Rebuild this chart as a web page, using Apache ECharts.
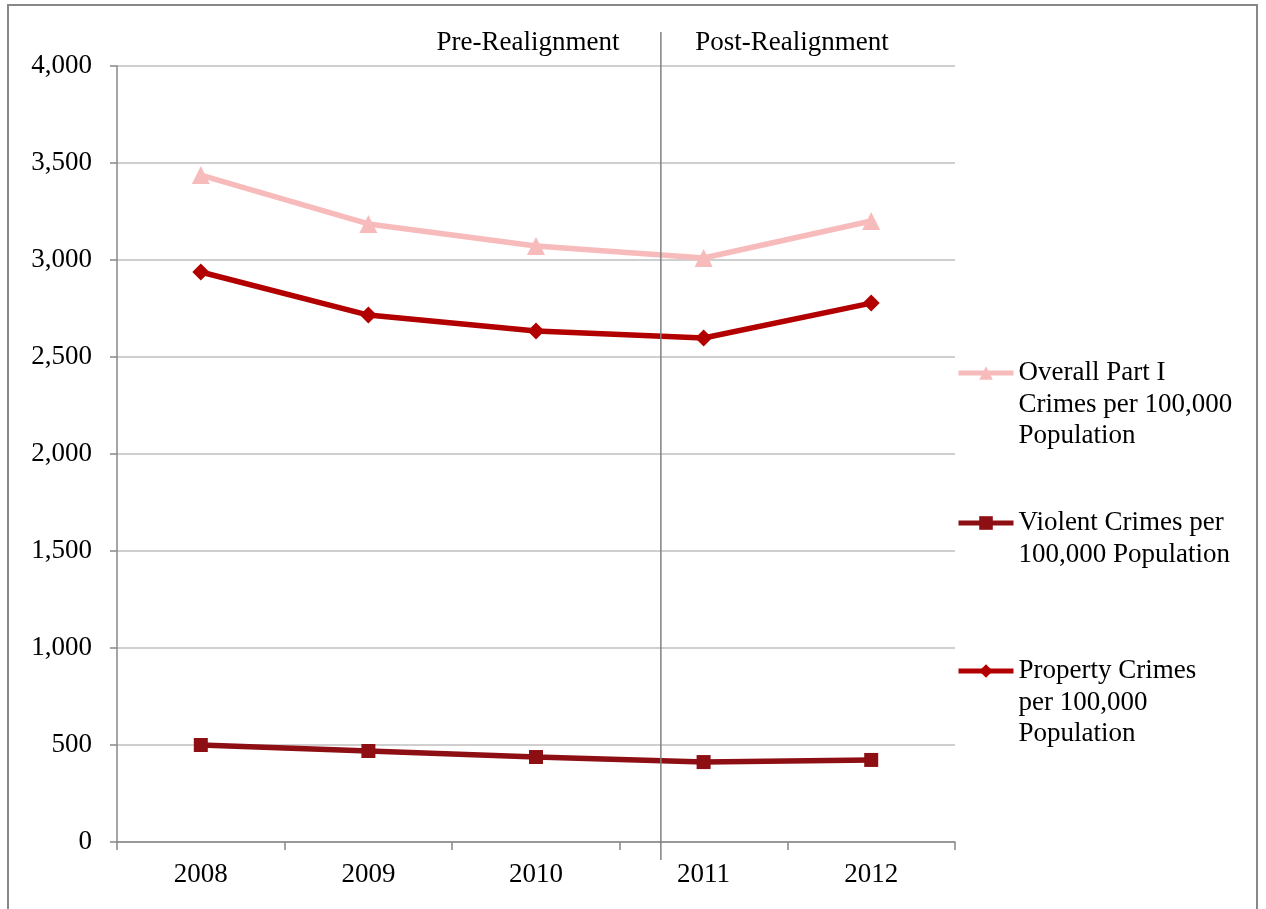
<!DOCTYPE html>
<html>
<head>
<meta charset="utf-8">
<script src="https://cdn.jsdelivr.net/npm/echarts@6/dist/echarts.min.js"></script>
<style>html,body{margin:0;padding:0;background:#fff}#c{width:1266px;height:909px}</style>
</head>
<body>
<div id="c"></div>
<script>
const years = ['2008', '2009', '2010', '2011', '2012'];
const overallRate = [3438, 3186, 3072, 3010, 3201];
const violentRate = [500, 469, 438, 412, 423];
const propertyRate = [2938, 2716, 2634, 2598, 2778];
const yTicks = [0, 500, 1000, 1500, 2000, 2500, 3000, 3500, 4000];
const realignmentAt = 3.245; // position of the divider, in category units from the left edge
const periodLabels = ['Pre-Realignment', 'Post-Realignment'];

const FONT = '"Liberation Serif", "DejaVu Serif", serif';
const names = {
  overall: 'Overall Part I\nCrimes per 100,000\nPopulation',
  violent: 'Violent Crimes per\n100,000 Population',
  property: 'Property Crimes\nper 100,000\nPopulation'
};
const colors = { overall: '#F8BBBC', violent: '#8D0E13', property: '#B20000' };

const chart = echarts.init(document.getElementById('c'));
const LH = 31.5;
function legendFor(name, iconCenterY) {
  const lines = name.split('\n').length;
  const total = 2 * lines - 1;
  return {
    data: [name], left: 956, top: iconCenterY - total * LH / 2, orient: 'vertical',
    itemWidth: 55, itemHeight: 17, itemGap: 0, padding: 0,
    selectedMode: false,
    lineStyle: { width: 5 },
    formatter: n => '\n'.repeat(lines - 1) + n,
    textStyle: { fontFamily: FONT, fontSize: 27, color: '#000', lineHeight: LH }
  };
}
chart.setOption({
  animation: false,
  backgroundColor: '#fff',
  grid: [
    { left: 117, right: 311, top: 66, bottom: 67 },
    { left: 117, right: 311, top: 32, bottom: 49 }
  ],
  legend: [
    legendFor(names.overall, 373),
    legendFor(names.violent, 523),
    legendFor(names.property, 671)
  ],
  xAxis: [
    {
      type: 'category', data: years, gridIndex: 0, boundaryGap: true,
      axisLine: { lineStyle: { color: '#888', width: 1.5 } },
      axisTick: { show: true, length: 8, lineStyle: { color: '#888', width: 1.5 } },
      axisLabel: { fontFamily: FONT, fontSize: 27, color: '#000', margin: 19 }
    },
    { type: 'value', gridIndex: 1, min: 0, max: years.length, show: false }
  ],
  yAxis: [
    {
      type: 'value', gridIndex: 0, min: yTicks[0], max: yTicks[yTicks.length - 1], interval: yTicks[1] - yTicks[0],
      axisLine: { show: true, lineStyle: { color: '#888', width: 1.5 } },
      axisTick: { show: true, length: 7, lineStyle: { color: '#888', width: 1.5 } },
      axisLabel: {
        fontFamily: FONT, fontSize: 27, color: '#000', margin: 25, padding: [4, 0, 0, 0],
        formatter: v => v.toLocaleString('en-US')
      },
      splitLine: { lineStyle: { color: '#BFBFBF', width: 1.5 } }
    },
    { type: 'value', gridIndex: 1, min: 0, max: 1, show: false }
  ],
  series: [
    {
      name: names.overall, type: 'line', data: overallRate, xAxisIndex: 0, yAxisIndex: 0,
      symbol: 'triangle', symbolSize: 18, color: colors.overall,
      lineStyle: { width: 5.5, color: colors.overall }, itemStyle: { color: colors.overall }, z: 3
    },
    {
      name: names.violent, type: 'line', data: violentRate, xAxisIndex: 0, yAxisIndex: 0,
      symbol: 'rect', symbolSize: 14, color: colors.violent,
      lineStyle: { width: 5.5, color: colors.violent }, itemStyle: { color: colors.violent }, z: 3
    },
    {
      name: names.property, type: 'line', data: propertyRate, xAxisIndex: 0, yAxisIndex: 0,
      symbol: 'diamond', symbolSize: 17, color: colors.property,
      lineStyle: { width: 5.5, color: colors.property }, itemStyle: { color: colors.property }, z: 3
    },
    {
      name: 'divider', type: 'line', xAxisIndex: 1, yAxisIndex: 1,
      data: [[realignmentAt, 0], [realignmentAt, 1]], symbol: 'none',
      lineStyle: { color: '#808080', width: 1.5 }, z: 4, silent: true
    }
  ],
  graphic: [
    { type: 'rect', shape: { x: 8, y: 5, width: 1249, height: 920 }, style: { fill: 'none', stroke: '#888', lineWidth: 2 }, silent: true },
    { type: 'text', x: 528, y: 43, style: { text: periodLabels[0], font: '27px ' + FONT, fill: '#000', align: 'center', verticalAlign: 'middle' } },
    { type: 'text', x: 792, y: 43, style: { text: periodLabels[1], font: '27px ' + FONT, fill: '#000', align: 'center', verticalAlign: 'middle' } }
  ]
});
</script>
</body>
</html>
